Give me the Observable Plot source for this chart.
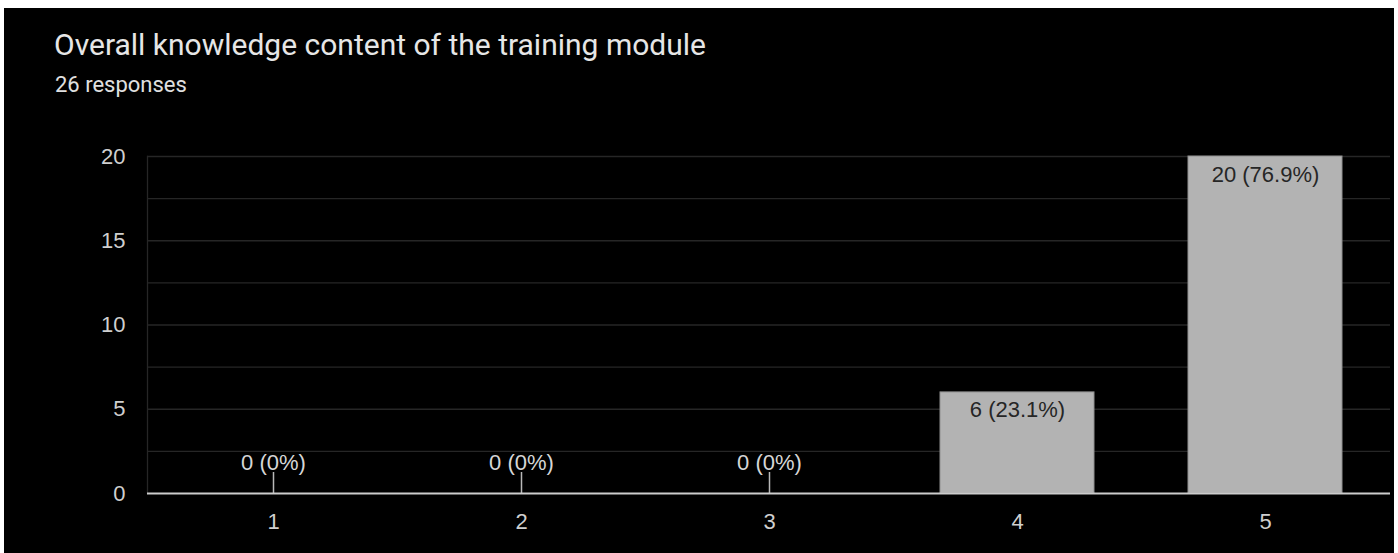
<!DOCTYPE html>
<html>
<head>
<meta charset="utf-8">
<script src="https://cdn.jsdelivr.net/npm/d3@7"></script>
<script src="https://cdn.jsdelivr.net/npm/@observablehq/plot@0.6"></script>
<style>
  html, body { margin: 0; padding: 0; background: #ffffff; }
  #card { position: absolute; left: 4px; top: 8px; width: 1390px; height: 545px; background: #000; overflow: hidden; font-family: Roboto, "Noto Sans", sans-serif; }
  #title { position: absolute; left: 50px; top: 22px; font-size: 30px; line-height: 1; color: #e6e6e6; white-space: nowrap; }
  #subtitle { position: absolute; left: 51px; top: 66px; font-size: 22px; line-height: 1; color: #e0e0e0; white-space: nowrap; }
  #chart { position: absolute; left: 0; top: 102px; }
</style>
</head>
<body>
<div id="card">
  <div id="title"></div>
  <div id="subtitle"></div>
  <div id="chart"></div>
</div>
<script>
const titleText = "Overall knowledge content of the training module";
const subtitleText = "26 responses";
const categories = ["1", "2", "3", "4", "5"];
const counts = [0, 0, 0, 6, 20];
const yTicks = [0, 5, 10, 15, 20];
const gridValues = [2.5, 5, 7.5, 10, 12.5, 15, 17.5, 20];

document.getElementById("title").textContent = titleText;
document.getElementById("subtitle").textContent = subtitleText;

const total = d3.sum(counts);
const fmtPct = v => {
  const p = (v / total * 100).toFixed(1);
  return p.endsWith(".0") ? p.slice(0, -2) : p;
};
const data = categories.map((c, i) => ({cat: c, value: counts[i], label: `${counts[i]} (${fmtPct(counts[i])}%)`}));
const nonZero = data.filter(d => d.value > 0);
const zeros = data.filter(d => d.value === 0);

const chartFont = "'Liberation Sans', Arial, sans-serif";
const chart = Plot.plot({
  width: 1390,
  height: 443,
  marginLeft: 143,
  marginRight: 4,
  marginTop: 46,
  marginBottom: 60,
  style: {background: "transparent", fontFamily: chartFont, fontSize: "22px", color: "#cfcfcf", overflow: "visible"},
  x: {domain: categories, paddingInner: 0.38, paddingOuter: 0.19, label: null},
  y: {domain: [0, 20], label: null},
  marks: [
    Plot.ruleY(gridValues, {stroke: "#262626", strokeWidth: 1.3}),
    Plot.frame({anchor: "left", stroke: "#262626", strokeWidth: 1.3}),
    Plot.barY(nonZero, {x: "cat", y: "value", fill: "#b3b3b3", stroke: "#8f8f8f", strokeWidth: 1}),
    Plot.ruleX(zeros, {x: "cat", y1: 0, y2: 0, insetTop: -21, stroke: "#b8b8b8", strokeWidth: 1.5}),
    Plot.ruleY([0], {stroke: "#cccccc", strokeWidth: 2}),
    Plot.text(nonZero, {x: "cat", y: "value", text: "label", dy: 18, fill: "#262626", fontSize: 22, fontFamily: chartFont}),
    Plot.text(zeros, {x: "cat", y: "value", text: "label", dy: -31, fill: "#d6d6d6", fontSize: 22, fontFamily: chartFont}),
    Plot.axisY({ticks: yTicks, tickSize: 0, tickPadding: 22, fontSize: 22, fontFamily: chartFont, label: null}),
    Plot.axisX({tickSize: 0, tickPadding: 20, fontSize: 22, fontFamily: chartFont, label: null})
  ]
});
document.getElementById("chart").appendChild(chart);
</script>
</body>
</html>
